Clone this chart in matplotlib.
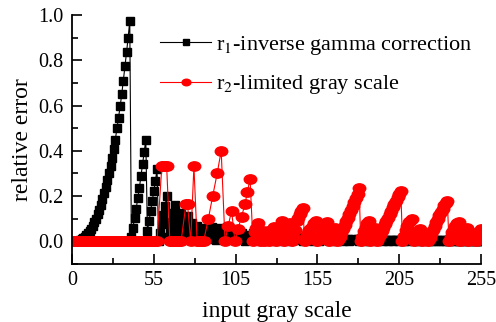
import numpy as np
import matplotlib
matplotlib.use("Agg")
import matplotlib.pyplot as plt
from matplotlib.path import Path
from matplotlib.ticker import MultipleLocator

plt.rcParams['font.family'] = ['Liberation Serif', 'DejaVu Serif']
plt.rcParams['mathtext.fontset'] = 'stix'

# input gray levels
gray = np.arange(256)

# r1 - inverse gamma correction
r1 = [0.000, 0.000, 0.001, 0.002, 0.003, 0.006, 0.009, 0.014, 0.020, 0.027,
      0.035, 0.045, 0.056, 0.069, 0.084, 0.100, 0.119, 0.139, 0.161, 0.185,
      0.212, 0.241, 0.272,
      0.300, 0.333, 0.370, 0.410, 0.450, 0.500, 0.547, 0.596, 0.650, 0.710,
      0.773, 0.835, 0.900, 0.975,
      0.020, 0.060, 0.105, 0.145, 0.190, 0.237, 0.289, 0.340, 0.395, 0.450,
      0.045, 0.090, 0.134, 0.178, 0.223, 0.267, 0.320,
      0.000, 0.035, 0.075, 0.115, 0.156, 0.200,
      0.020, 0.050, 0.087, 0.124, 0.160,
      0.024, 0.057, 0.091, 0.126,
      0.016, 0.046, 0.080, 0.113,
      0.020, 0.052, 0.082,
      0.009, 0.038, 0.067,
      0.002, 0.031, 0.059,
      0.004, 0.031, 0.060,
      0.010, 0.035, 0.064,
      0.018, 0.046,
      0.007, 0.032, 0.059,
      0.023, 0.047,
      0.016, 0.040,
      0.013, 0.036,
      0.010, 0.034,
      0.010, 0.034,
      0.013, 0.034,
      0.015, 0.037,
      0.020, 0.003, 0.024, 0.008,
      0.030, 0.012, 0.035, 0.018, 0.004, 0.026, 0.010, 0.030, 0.016, 0.002,
      0.022, 0.008, 0.027, 0.014, 0.001, 0.020, 0.009, 0.024, 0.013, 0.003,
      0.018, 0.007, 0.022, 0.011, 0.002, 0.016, 0.020, 0.006, 0.013, 0.019,
      0.004, 0.010, 0.017, 0.001, 0.012, 0.016, 0.005, 0.009, 0.015, 0.003,
      0.011, 0.014, 0.006, 0.002, 0.012, 0.008, 0.015, 0.004, 0.010, 0.013,
      0.001, 0.009, 0.012, 0.005, 0.003, 0.011, 0.007, 0.013, 0.002, 0.009,
      0.006, 0.011, 0.001, 0.008, 0.010, 0.004, 0.007, 0.009, 0.002, 0.006,
      0.008, 0.003, 0.009, 0.005, 0.001, 0.007, 0.009, 0.004, 0.006, 0.002,
      0.008, 0.005, 0.007, 0.001, 0.006, 0.008, 0.003, 0.005, 0.007, 0.002,
      0.006, 0.004, 0.008, 0.001, 0.005, 0.007, 0.003, 0.006, 0.002, 0.007,
      0.004, 0.005, 0.001, 0.006, 0.007, 0.003, 0.005, 0.002, 0.006, 0.004,
      0.005, 0.002, 0.006, 0.003, 0.005, 0.001, 0.004, 0.006, 0.002, 0.005,
      0.003, 0.004, 0.001, 0.005, 0.003, 0.004, 0.002, 0.005, 0.001, 0.004,
      0.003, 0.002, 0.004, 0.001, 0.003, 0.004, 0.002, 0.003, 0.001, 0.004,
      0.002, 0.003, 0.001, 0.003, 0.002]

# r2 - limited gray scale
r2_x = (list(range(0, 54))
        + [56, 57, 58, 59]
        + list(range(61, 69))
        + [71, 72, 74, 76]
        + list(range(78, 83))
        + [85, 87.7, 90.5, 93, 95.4, 97.3, 99.5, 101.6,
           103.4, 105.7, 107.8, 109.4, 111, 112.8]
        + list(range(114, 256)))
r2_y = ([0.0] * 54
        + [0.333, 0.333, 0.333, 0.333]
        + [0.0] * 8
        + [0.164, 0.164, 0.0, 0.333]
        + [0.0] * 5
        + [0.100, 0.200, 0.300, 0.400, 0.000, 0.068, 0.134, 0.000,
           0.053, 0.109, 0.164, 0.220, 0.277, 0.000]
        + [0.040, 0.060, 0.083, 0.000, 0.020, 0.045, 0.000, 0.020, 0.045, 0.000,
           0.020, 0.045, 0.065, 0.000, 0.020, 0.045, 0.070, 0.088, 0.000, 0.020,
           0.040, 0.060, 0.083, 0.000, 0.020, 0.050, 0.090, 0.105, 0.120, 0.135,
           0.148, 0.000, 0.020, 0.035, 0.050, 0.060, 0.070, 0.080, 0.090, 0.000,
           0.015, 0.030, 0.045, 0.060, 0.075, 0.085, 0.000, 0.015, 0.030, 0.045,
           0.060, 0.000, 0.008, 0.020, 0.037, 0.054, 0.071, 0.088, 0.105, 0.122,
           0.140, 0.157, 0.174, 0.190, 0.210, 0.237, 0.000, 0.020, 0.045, 0.065,
           0.080, 0.090, 0.000, 0.030, 0.050, 0.060, 0.000, 0.015, 0.030, 0.045,
           0.060, 0.075, 0.090, 0.105, 0.120, 0.135, 0.150, 0.165, 0.180, 0.195,
           0.210, 0.223, 0.000, 0.025, 0.050, 0.070, 0.085, 0.092, 0.097, 0.000,
           0.020, 0.035, 0.045, 0.053, 0.000, 0.010, 0.018, 0.023, 0.000, 0.016,
           0.032, 0.050, 0.068, 0.085, 0.100, 0.115, 0.130, 0.145, 0.160, 0.170,
           0.178, 0.000, 0.020, 0.040, 0.055, 0.070, 0.080, 0.085, 0.000, 0.015,
           0.030, 0.045, 0.060, 0.000, 0.010, 0.020, 0.030, 0.035, 0.000, 0.020,
           0.040, 0.053])

xticks = np.linspace(0, 255, 6)
xtick_labels = ['0', '55', '105', '155', '205', '255']

# squashed circle, like the original markers
circ = Path.unit_circle()
ellipse = Path(circ.vertices * [1.0, 0.75], circ.codes)

fig = plt.figure(figsize=(4.96, 3.22), dpi=100)
ax = fig.add_axes([0.1452, 0.1801, 0.8246, 0.7733])

ax.plot(gray, r1, color='black', lw=0.8, marker='s', ms=5.6,
        mec='black', mfc='black', label=r'r$_1$-inverse gamma correction')
ax.plot(r2_x, r2_y, color='red', lw=0.8, marker=ellipse, ms=9.0,
        mec='red', mfc='red', label=r'r$_2$-limited gray scale')

ax.set_xlim(0, 255)
ax.set_ylim(-0.1, 1.0)
ax.set_xticks(xticks)
ax.set_xticklabels(xtick_labels)
ax.xaxis.set_minor_locator(MultipleLocator(25.5))
ax.set_yticks([0.0, 0.2, 0.4, 0.6, 0.8, 1.0])
ax.set_yticklabels(['0.0', '0.2', '0.4', '0.6', '0.8', '1.0'])
ax.yaxis.set_minor_locator(MultipleLocator(0.1))

ax.spines['top'].set_visible(False)
ax.spines['right'].set_visible(False)
for s in ['left', 'bottom']:
    ax.spines[s].set_linewidth(1.3)
ax.tick_params(which='major', direction='in', length=7, width=1.2, labelsize=14.5)
ax.tick_params(which='minor', direction='in', length=4, width=1.2)
ax.tick_params(axis='x', which='major', pad=5)
ax.tick_params(axis='y', which='major', pad=6)

ax.set_xlabel('input gray scale', fontsize=17, labelpad=8)
ax.set_ylabel('relative error', fontsize=17, labelpad=4)

ax.legend(loc='upper left', bbox_to_anchor=(0.215, 0.925), frameon=False,
          fontsize=16, handlelength=2.3, handletextpad=0.2, labelspacing=0.75,
          borderpad=0, borderaxespad=0, numpoints=1, markerscale=0.7)

fig.savefig('out.png', dpi=100)
